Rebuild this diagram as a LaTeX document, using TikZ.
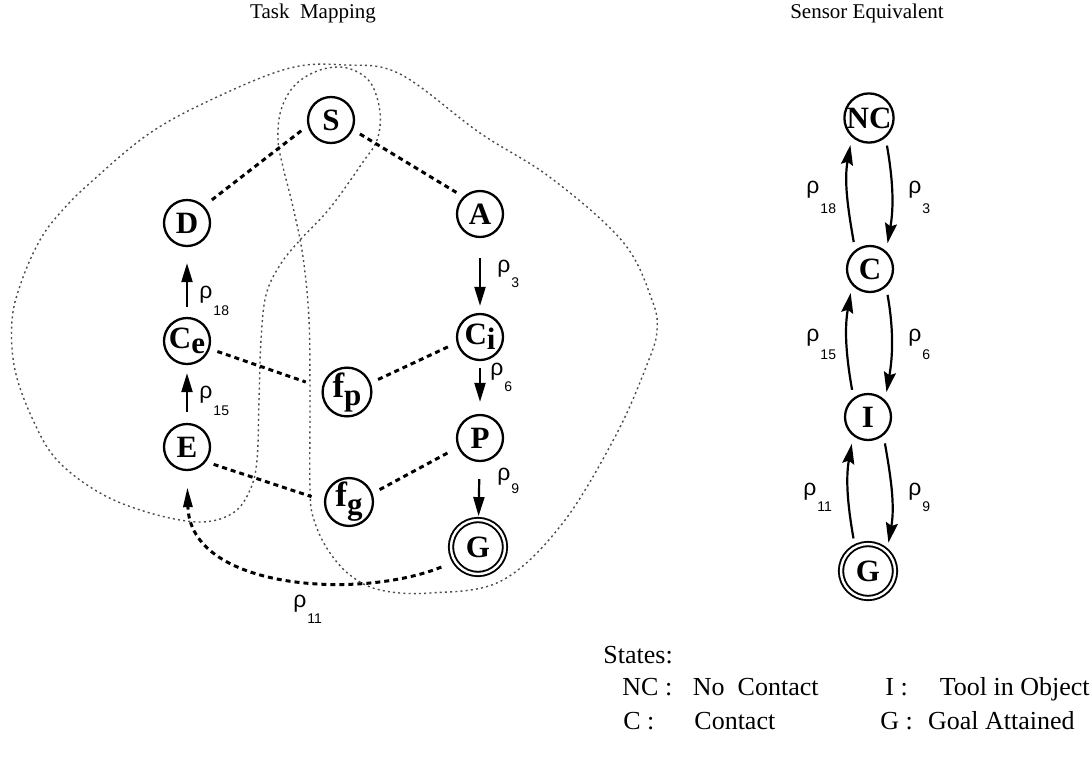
\documentclass[tikz,border=0pt]{standalone}
\usepackage{fontspec}
\setmainfont{Liberation Serif}
\newfontfamily\rhofont{Liberation Sans}
\usetikzlibrary{arrows.meta,calc}
\newcommand{\rl}[2][8.5pt]{{\rhofont\fontsize{11.5}{11.5}\selectfont ρ}\kern0.5pt\raisebox{-#1}{\rhofont\fontsize{7}{7}\selectfont #2}}
\begin{document}
\begin{tikzpicture}[x=0.5pt,y=-0.5pt,
  st/.style={circle,draw,line width=1.15pt,minimum size=23pt,inner sep=0pt,font=\bfseries\fontsize{15.5}{16}\selectfont},
  fin/.style={st,double,double distance=1.2pt,line width=0.95pt,minimum size=27pt},
  dline/.style={line width=1.5pt,dash pattern=on 2.5pt off 2pt,shorten <=4pt,shorten >=4pt},
  varr/.style={line width=1.1pt,-{Triangle[length=9.5pt,width=5.5pt]}},
  carr/.style={line width=1.1pt,-{Stealth[length=10pt,width=6pt,inset=1.5pt]},shorten <=4pt,shorten >=4pt},
  darr/.style={line width=1.5pt,dash pattern=on 2.5pt off 2pt,-{Triangle[length=10pt,width=4.5pt]}},
  blob/.style={line width=0.7pt,black!70,dash pattern=on 1pt off 1.6pt},
  rho/.style={anchor=base west,inner sep=0pt},
  txt/.style={anchor=base west,inner sep=0pt,font=\fontsize{13}{15}\selectfont},
  ttl/.style={anchor=base,inner sep=0pt,font=\fontsize{10.5}{12}\selectfont}]

\useasboundingbox (0,0) rectangle (1092,761);

% titles
\node[ttl] (t1) at (313,18) {Task\ \ Mapping};
\node[ttl] (t2) at (867,18) {Sensor Equivalent};

% dotted region
\draw[blob] plot[smooth cycle, tension=0.6] coordinates {
(345,65) (400,74) (480,133) (551,178) (623,242) (652,300) (657,330) (648,362)
(616,435) (562,524) (501,581) (430,593) (380,590) (350,575) (328,550) (314,520)
(310,490) (310,400) (309,320) (303,257) (293,207) (283,167) (278,140) (281,110)
(295,85) (320,70) (347,68) (370,82) (380,112) (377,140) (363,162) (330,208)
(300,240) (280,265) (266,295) (261,340) (259,400) (257,460) (250,490) (233,513)
(200,522) (150,513) (100,493) (57,460) (33,420) (15,370) (12,320) (22,280)
(40,240) (60,213) (90,183) (150,133) (217,97) (290,68)};

% left graph nodes
\node[st] (S) at (331,120) {S};
\node[st] (D) at (187,223) {D};
\node[st] (A) at (480,214) {A};
\node[st] (Ce) at (187,341) {C\raisebox{-2.5pt}{e}};
\node[st] (Ci) at (480,337) {C\raisebox{-2.5pt}{i}};
\node[st] (fp) at (347,392) {\fontsize{17.5}{17}\selectfont f\raisebox{-4pt}{\fontsize{15.5}{15}\selectfont p}};
\node[st] (E) at (187,447) {E};
\node[st] (P) at (480,438) {P};
\node[st] (fg) at (349,502) {\fontsize{17.5}{17}\selectfont f\raisebox{-4pt}{\fontsize{15.5}{15}\selectfont g}};
\node[fin] (G) at (478,547) {G};

% dashed links
\draw[dline] (S.194) -- (D.45);
\draw[dline] (S.-24) -- (A.134);
\draw[dline,shorten >=8.5pt] (Ce.-19) -- (fp.170);
\draw[dline] (fp.21) -- (Ci.194);
\draw[dline,shorten >=6.5pt] (E.-38) -- (fg.177);
\draw[dline] (fg.20) -- (P.203);

% vertical arrows
\draw[varr,shorten <=5pt,shorten >=8pt] (Ce) -- (D);
\draw[varr,shorten <=5.5pt,shorten >=4pt] (E) -- (Ce);
\draw[varr,shorten <=10pt,shorten >=3.5pt] (A) -- (Ci);
\draw[varr,shorten <=3.5pt,shorten >=6pt] (Ci) -- (P);
\draw[varr,shorten <=8.5pt,shorten >=1.5pt] (P) -- (G);
\draw[darr,shorten <=7pt,shorten >=8pt] (G.212) .. controls (360,600) and (190,590) .. (E.-90);

% left rho labels
\node[rho] (r18) at (199,298) {\rl{18}};
\node[rho] (r15) at (199,398) {\rl{15}};
\node[rho] (r3) at (497,272) {\rl[7.5pt]{3}};
\node[rho] (r6) at (490,375) {\rl[8pt]{6}};
\node[rho] (r9) at (497,480) {\rl[6.5pt]{9}};
\node[rho] (r11) at (293,607) {\rl[8pt]{11}};

% right graph
\node[st] (NC) at (869,118) {NC};
\node[st] (C) at (870,269) {C};
\node[st] (I) at (868,417) {I};
\node[fin] (G2) at (868,571) {G};

\draw[carr] (NC.-50) to[out=-80,in=80] (C.48);
\draw[carr] (C.128) to[out=100,in=-100] (NC.-132);
\draw[carr] (C.-48) to[out=-80,in=80] (I.45);
\draw[carr] (I.127) to[out=100,in=-100] (C.-138);
\draw[carr] (I.-50) to[out=-80,in=80] (G2.47);
\draw[carr] (G2.118) to[out=100,in=-100] (I.-128);

\node[rho] (q18) at (806,193) {\rl[10pt]{18}};
\node[rho] (q3) at (908,193) {\rl[10pt]{3}};
\node[rho] (q15) at (806,341) {\rl[9pt]{15}};
\node[rho] (q6) at (908,341) {\rl[9pt]{6}};
\node[rho] (q11) at (803,495) {\rl[8pt]{11}};
\node[rho] (q9) at (908,495) {\rl[8pt]{9}};

% legend
\node[txt] (st0) at (603,663) {States:};
\node[txt] (l1) at (622,695) {NC :};
\node[txt,anchor=base east] (l1b) at (819,695) {No\ \ Contact};
\node[txt] (l2) at (623,729) {C :};
\node[txt] (l2b) at (694,729) {Contact};
\node[txt] (l3) at (885,695) {I :};
\node[txt,anchor=base east] (l3b) at (1090,695) {Tool in Object};
\node[txt] (l4) at (880,729) {G :};
\node[txt,anchor=base east] (l4b) at (1075,729) {Goal Attained};
\end{tikzpicture}
\end{document}
